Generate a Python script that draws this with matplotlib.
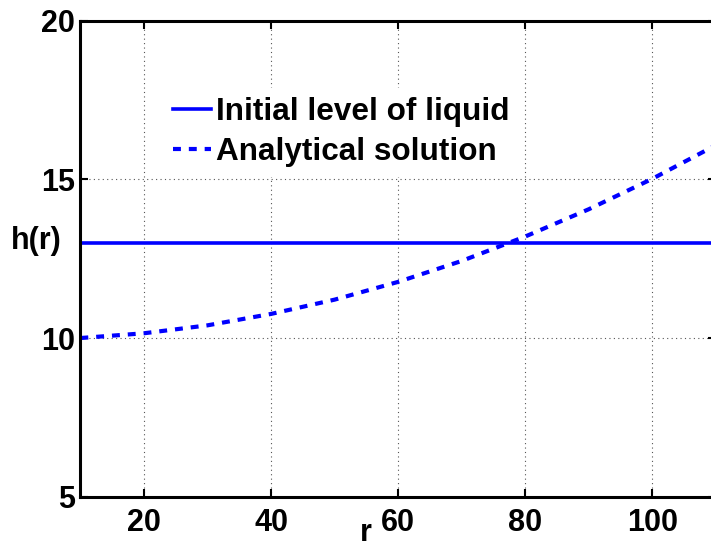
import matplotlib
matplotlib.use('Agg')
import matplotlib.pyplot as plt

plt.rcParams['font.family'] = ['Liberation Sans', 'DejaVu Sans']
plt.rcParams['font.weight'] = 'bold'

# data
r_vals = [10, 20, 30, 40, 50, 60, 70, 80, 90, 100, 110]
h_analytic = [10.0, 10.15, 10.40, 10.76, 11.21, 11.77, 12.43, 13.20, 14.06, 15.02, 16.08]
r_level = [10, 110]
h_level = [13, 13]

xticks = [20, 40, 60, 80, 100]
yticks = [5, 10, 15, 20]

fig = plt.figure(figsize=(7.11, 5.5), dpi=100)
ax = fig.add_axes([80.4/711, 53.3/550, 635.6/711, 476/550])

ax.plot(r_level, h_level, color='#0000ff', linewidth=2.6, label='Initial level of liquid')
ax.plot(r_vals, h_analytic, color='#0000ff', linewidth=3.0, linestyle=(0, (1.9, 1.9)),
        label='Analytical solution')

ax.set_xlim(10, 110)
ax.set_ylim(5, 20)
ax.set_xticks(xticks)
ax.set_yticks(yticks)
ax.grid(True, linestyle=(0, (1, 3)), color='#555555', linewidth=0.8)
ax.tick_params(direction='in', length=6, width=1.5, labelsize=22)
ax.tick_params(axis='x', pad=8)
ax.tick_params(axis='y', pad=4)
ax.xaxis.set_ticks_position('both')
ax.yaxis.set_ticks_position('both')
for s in ax.spines.values():
    s.set_linewidth(2.2)
for lab in ax.get_xticklabels() + ax.get_yticklabels():
    lab.set_fontweight('bold')

fig.text(36/711, 1 - 241/550, 'h(r)', fontsize=22, fontweight='bold', ha='center', va='center')
fig.text(366/711, 1 - 533/550, 'r', fontsize=22, fontweight='bold', ha='center', va='center')

leg = ax.legend(loc='upper left', bbox_to_anchor=(164/711, 1 - 88/550),
                bbox_transform=fig.transFigure,
                prop={'weight': 'bold', 'size': 22.7},
                frameon=True, facecolor='white', edgecolor='white', framealpha=1,
                fancybox=False, handlelength=1.2, handletextpad=0.15,
                labelspacing=0.3, borderpad=0.3, borderaxespad=0)

fig.savefig('out.png', dpi=100)
